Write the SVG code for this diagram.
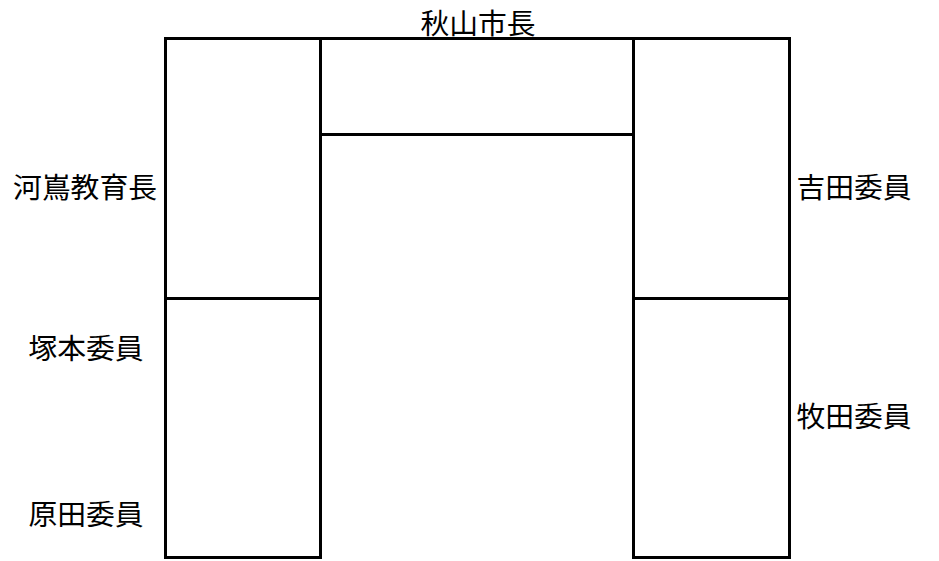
<svg xmlns="http://www.w3.org/2000/svg" width="939" height="561" viewBox="0 0 939 561">
<style>
.t{fill:none;stroke:#000;stroke-width:3}
.l{font-family:"Noto Sans CJK JP","Noto Sans CJK SC",sans-serif;font-size:28.8px;fill:#000;text-anchor:middle;dominant-baseline:central}
</style>
<rect width="939" height="561" fill="#fff"/>
<g id="table-left">
<rect class="t" x="165.5" y="38.5" width="155" height="519"/>
<line class="t" x1="165.5" y1="298.5" x2="320.5" y2="298.5"/>
</g>
<g id="table-top">
<line class="t" x1="320.5" y1="38.5" x2="633.5" y2="38.5"/>
<line class="t" x1="320.5" y1="134.5" x2="635" y2="134.5"/>
</g>
<g id="table-right">
<rect class="t" x="633.5" y="38.5" width="156" height="519"/>
<line class="t" x1="633.5" y1="298.5" x2="789.5" y2="298.5"/>
</g>
<g id="mayor"><text class="l" x="478" y="21">秋山市長</text></g>
<g id="kawashima"><text class="l" x="85" y="185">河嶌教育長</text></g>
<g id="tsukamoto"><text class="l" x="86" y="346">塚本委員</text></g>
<g id="harada"><text class="l" x="86" y="512">原田委員</text></g>
<g id="yoshida"><text class="l" x="854" y="185">吉田委員</text></g>
<g id="makita"><text class="l" x="854" y="414">牧田委員</text></g>
</svg>
